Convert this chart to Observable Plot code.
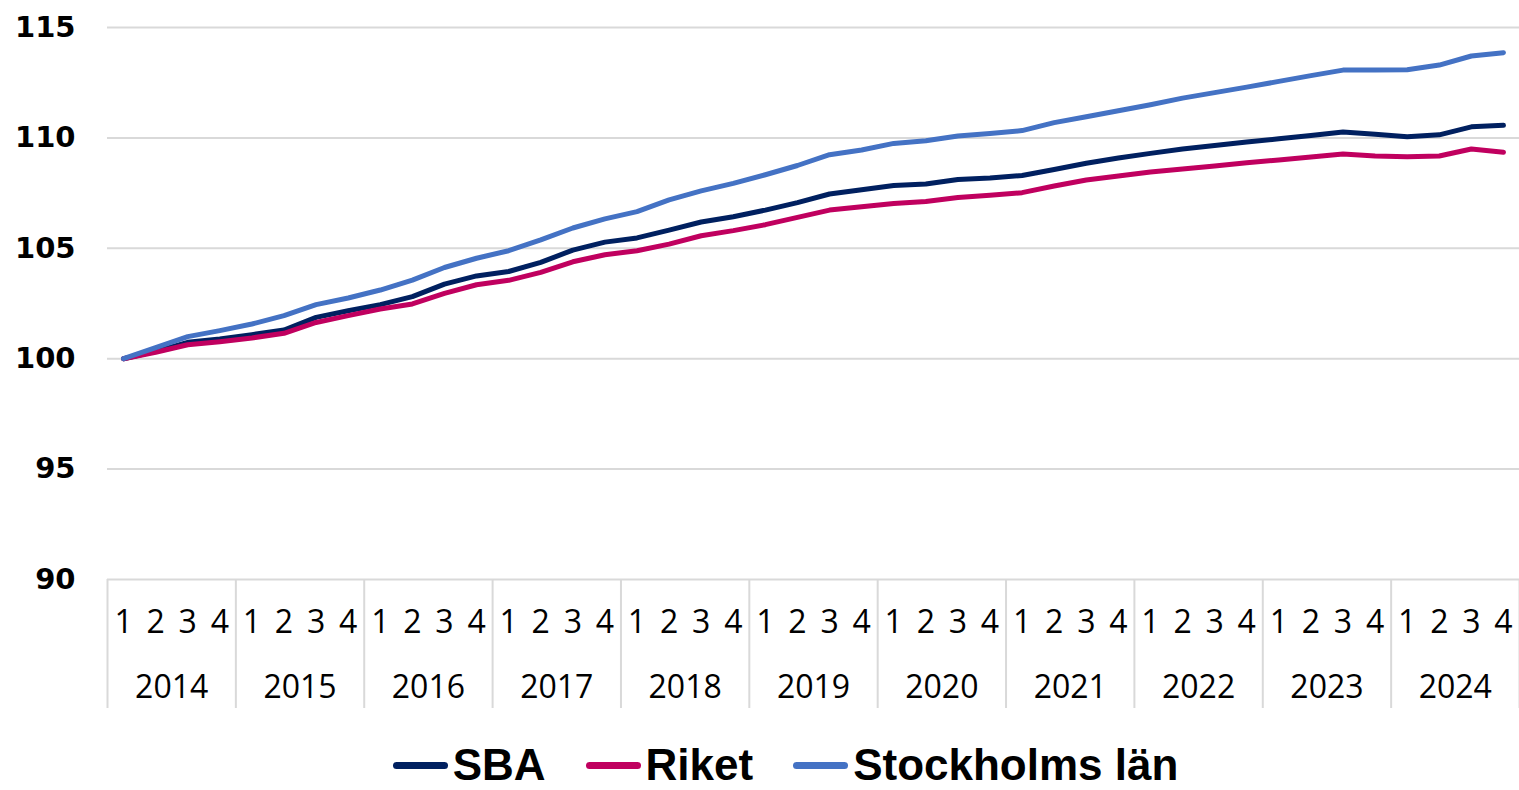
<!DOCTYPE html>
<html><head><meta charset="utf-8">
<script src="https://cdn.jsdelivr.net/npm/d3@7"></script>
<script src="https://cdn.jsdelivr.net/npm/@observablehq/plot@0.6"></script>
<style>
body{margin:0;background:#fff;overflow:hidden;}
#legend{display:flex;justify-content:center;align-items:center;height:50px;padding-left:52px;font-family:"Liberation Sans";font-weight:bold;font-size:44px;line-height:1;color:#000;}
.item{display:flex;align-items:center;margin:0 20px;}
.sw{width:55px;height:7px;border-radius:4px;margin-right:5px;}
</style></head><body><div id="chart"></div><div id="legend"></div>
<script>
const quarters = ["1","2","3","4"];
const years = ["2014","2015","2016","2017","2018","2019","2020","2021","2022","2023","2024"];
const seriesNames = ["SBA","Riket","Stockholms län"];
const colors = ["#002060","#c0005f","#4472c4"];
const yTicks = [90,95,100,105,110,115];
const sba = [100,100.33,100.74,100.89,101.09,101.3,101.87,102.17,102.45,102.81,103.38,103.75,103.95,104.36,104.92,105.28,105.47,105.82,106.19,106.43,106.73,107.07,107.46,107.65,107.84,107.91,108.12,108.18,108.3,108.57,108.85,109.09,109.3,109.5,109.66,109.81,109.96,110.11,110.27,110.16,110.05,110.14,110.5,110.57];
const riket = [100,100.29,100.63,100.77,100.94,101.15,101.64,101.95,102.25,102.48,102.96,103.35,103.55,103.91,104.39,104.71,104.89,105.19,105.57,105.8,106.07,106.4,106.73,106.88,107.03,107.12,107.3,107.4,107.52,107.82,108.09,108.27,108.46,108.59,108.73,108.87,109.0,109.13,109.27,109.18,109.15,109.18,109.5,109.35];
const sthlm = [100,100.5,101.0,101.27,101.57,101.95,102.45,102.75,103.11,103.56,104.13,104.55,104.89,105.38,105.92,106.33,106.66,107.19,107.6,107.94,108.33,108.75,109.24,109.45,109.75,109.87,110.09,110.2,110.33,110.69,110.96,111.23,111.5,111.8,112.05,112.3,112.56,112.82,113.07,113.07,113.09,113.3,113.71,113.86];

const seriesValues = [sba, riket, sthlm];
const rows = [];
seriesNames.forEach((name, s) => {
  seriesValues[s].forEach((v, i) => rows.push({series: name, i, v}));
});
const nQ = years.length * quarters.length;
const qIdx = d3.range(nQ);
const yearCenters = years.map((_, k) => k * 4 + 1.5);
const bounds = d3.range(years.length + 1).map(k => k * 4 - 0.5);

const plot = Plot.plot({
  width: 1519, height: 740,
  marginLeft: 107, marginRight: 0, marginTop: 27, marginBottom: 161,
  style: {background: "#fff", color: "#000", fontFamily: "Open Sans"},
  x: {domain: [-0.5, nQ - 0.5], axis: null},
  y: {domain: [90, 115], axis: null},
  color: {domain: seriesNames, range: colors},
  marks: [
    Plot.gridY(yTicks, {stroke: "#d9d9d9", strokeOpacity: 1, strokeWidth: 2}),
    Plot.axisY(yTicks, {label: null, tickSize: 0, tickPadding: 32, fontSize: 29, fontWeight: "bold", fontFamily: "DejaVu Sans", fill: "#000"}),
    Plot.axisX(bounds, {label: null, tickSize: 129, tickFormat: () => "", stroke: "#d9d9d9", strokeWidth: 2, strokeOpacity: 1}),
    Plot.axisX(qIdx, {label: null, tickSize: 0, tickPadding: 31, tickFormat: d => quarters[d % 4], fontSize: 32, fontFamily: "Open Sans", fill: "#000"}),
    Plot.axisX(yearCenters, {label: null, tickSize: 0, tickPadding: 96, tickFormat: d => years[Math.round((d - 1.5) / 4)], fontSize: 32, fontFamily: "Open Sans", fill: "#000"}),
    Plot.line(rows, {x: "i", y: "v", z: "series", stroke: "series", strokeWidth: 5})
  ]
});
document.getElementById("chart").appendChild(plot);

const legend = document.getElementById("legend");
seriesNames.forEach((name, s) => {
  const it = document.createElement("div");
  it.className = "item";
  it.innerHTML = `<span class="sw" style="background:${colors[s]}"></span><span>${name}</span>`;
  legend.appendChild(it);
});
</script></body></html>
